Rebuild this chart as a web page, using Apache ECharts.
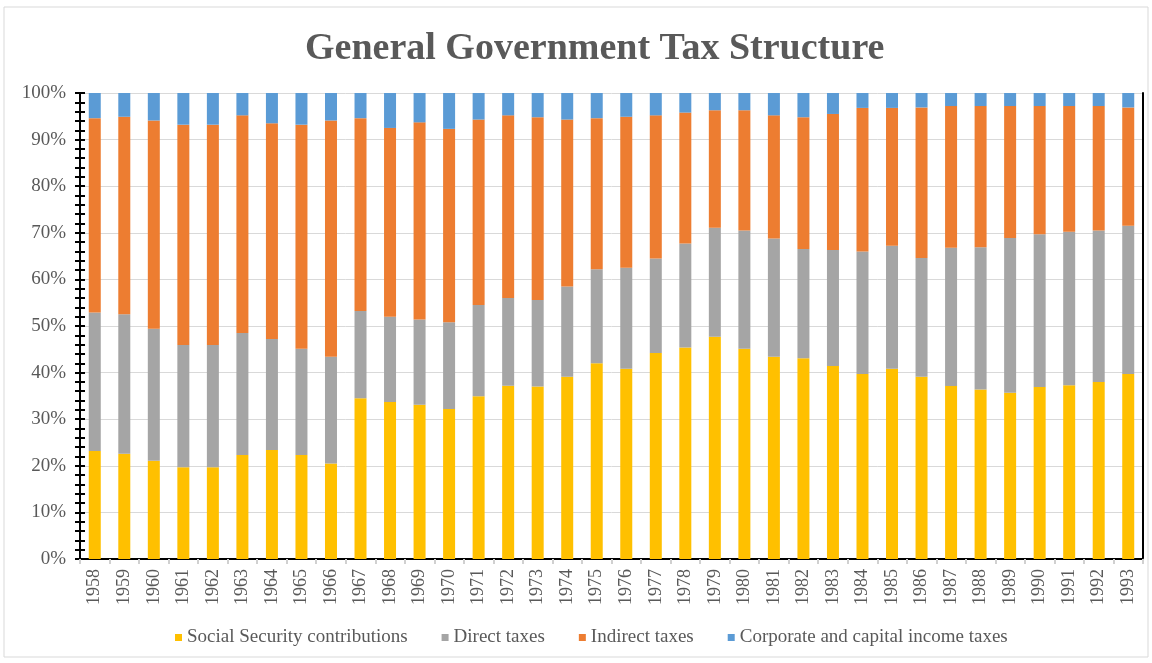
<!DOCTYPE html>
<html>
<head>
<meta charset="utf-8">
<title>General Government Tax Structure</title>
<script src="https://cdn.jsdelivr.net/npm/echarts@6/dist/echarts.min.js"></script>
<style>
  html, body { margin: 0; padding: 0; background: #fff; }
  #main { width: 1152px; height: 663px; }
</style>
</head>
<body>
<div id="main"></div>
<script>
// years on the x axis
const years = ['1958', '1959', '1960', '1961', '1962', '1963', '1964', '1965', '1966', '1967', '1968', '1969',
  '1970', '1971', '1972', '1973', '1974', '1975', '1976', '1977', '1978', '1979', '1980', '1981',
  '1982', '1983', '1984', '1985', '1986', '1987', '1988', '1989', '1990', '1991', '1992', '1993']

// shares in %
const socialSecurity = [23.2, 22.6, 21.1, 19.7, 19.7, 22.3, 23.4, 22.3, 20.5, 34.5, 33.7, 33.1,
  32.2, 34.9, 37.2, 37.0, 39.1, 42.0, 40.8, 44.2, 45.4, 47.7, 45.1, 43.4,
  43.1, 41.4, 39.7, 40.8, 39.1, 37.1, 36.4, 35.7, 36.9, 37.3, 38.0, 39.7]
const directTaxes = [29.7, 29.9, 28.3, 26.2, 26.2, 26.2, 23.8, 22.8, 22.9, 18.7, 18.3, 18.3,
  18.6, 19.6, 18.8, 18.6, 19.4, 20.2, 21.7, 20.3, 22.3, 23.4, 25.4, 25.4,
  23.4, 24.9, 26.3, 26.4, 25.5, 29.7, 30.5, 33.2, 32.8, 32.9, 32.5, 31.8]
const indirectTaxes = [41.7, 42.4, 44.7, 47.3, 47.3, 46.7, 46.3, 48.1, 50.7, 41.4, 40.5, 42.3,
  41.5, 39.8, 39.2, 39.2, 35.8, 32.4, 32.4, 30.7, 28.1, 25.2, 25.8, 26.4,
  28.3, 29.2, 30.8, 29.6, 32.3, 30.4, 30.3, 28.3, 27.5, 27.0, 26.7, 25.4]
const corporateTaxes = [5.4, 5.1, 5.9, 6.8, 6.8, 4.8, 6.5, 6.8, 5.9, 5.4, 7.5, 6.3,
  7.7, 5.7, 4.8, 5.2, 5.7, 5.4, 5.1, 4.8, 4.2, 3.7, 3.7, 4.8,
  5.2, 4.5, 3.2, 3.2, 3.1, 2.8, 2.8, 2.8, 2.8, 2.8, 2.8, 3.1]

const seriesNames = ['Social Security contributions', 'Direct taxes', 'Indirect taxes', 'Corporate and capital income taxes']
const seriesColors = ['#FFC000', '#A5A5A5', '#ED7D31', '#5B9BD5']

const serif = '"Liberation Serif", "DejaVu Serif", serif'

const chartInstance = echarts.init(document.getElementById('main'))

const makeBar = (idx, data) => {
  return {
    name: seriesNames[idx],
    type: 'bar',
    stack: 'total',
    barWidth: 12,
    itemStyle: { color: seriesColors[idx] },
    data: data
  }
}

const option = {
  animation: false,
  title: {
    text: 'General Government Tax Structure',
    left: 300,
    top: 25,
    textStyle: {
      fontFamily: serif,
      fontSize: 38,
      fontWeight: 'bold',
      color: '#595959'
    }
  },
  legend: {
    bottom: 11,
    left: 170,
    itemWidth: 7,
    itemHeight: 7,
    itemGap: 34,
    icon: 'rect',
    textStyle: { fontFamily: serif, fontSize: 19, color: '#595959', padding: [0, 0, 0, 0] },
    data: seriesNames
  },
  grid: { left: 80, right: 9, top: 93, bottom: 104 },
  xAxis: [
    {
      type: 'category',
      data: years,
      axisLine: { lineStyle: { color: '#d0d0d0', width: 2 } },
      axisTick: { show: true, length: 5, lineStyle: { color: '#d0d0d0', width: 2 } },
      axisLabel: { rotate: 90, fontFamily: serif, fontSize: 18, color: '#595959', margin: 10 }
    },
    {
      // black line along the top of the plot
      type: 'category',
      position: 'top',
      data: years,
      axisLine: { lineStyle: { color: '#000', width: 2 } },
      axisTick: { show: false },
      axisLabel: { show: false }
    }
  ],
  yAxis: [
    {
      type: 'value',
      min: 0,
      max: 100,
      interval: 10,
      axisLabel: { formatter: '{value}%', fontFamily: serif, fontSize: 19, color: '#595959', margin: 14 },
      axisLine: { show: true, lineStyle: { color: '#000', width: 2 } },
      axisTick: { show: true, length: 5, lineStyle: { color: '#000', width: 2 } },
      minorTick: { show: true, splitNumber: 5, length: 5, lineStyle: { color: '#000', width: 2 } },
      splitLine: { lineStyle: { color: '#d9d9d9', width: 1 } }
    },
    {
      // inner half of the crossing ticks
      type: 'value',
      position: 'left',
      min: 0,
      max: 100,
      interval: 10,
      axisLabel: { show: false },
      axisLine: { show: false },
      axisTick: { show: true, inside: true, length: 5, lineStyle: { color: '#000', width: 2 } },
      minorTick: { show: true, splitNumber: 5, length: 5, lineStyle: { color: '#000', width: 2 } },
      splitLine: { show: false }
    },
    {
      // black line on the right side
      type: 'value',
      position: 'right',
      min: 0,
      max: 100,
      axisLabel: { show: false },
      axisLine: { show: true, lineStyle: { color: '#000', width: 2 } },
      axisTick: { show: false },
      splitLine: { show: false }
    }
  ],
  graphic: [
    {
      type: 'rect',
      shape: { x: 4, y: 7, width: 1144, height: 650 },
      style: { fill: null, stroke: '#d9d9d9', lineWidth: 1 },
      silent: true
    }
  ],
  series: [
    makeBar(0, socialSecurity),
    makeBar(1, directTaxes),
    makeBar(2, indirectTaxes),
    makeBar(3, corporateTaxes)
  ]
}

chartInstance.setOption(option)
</script>
</body>
</html>
